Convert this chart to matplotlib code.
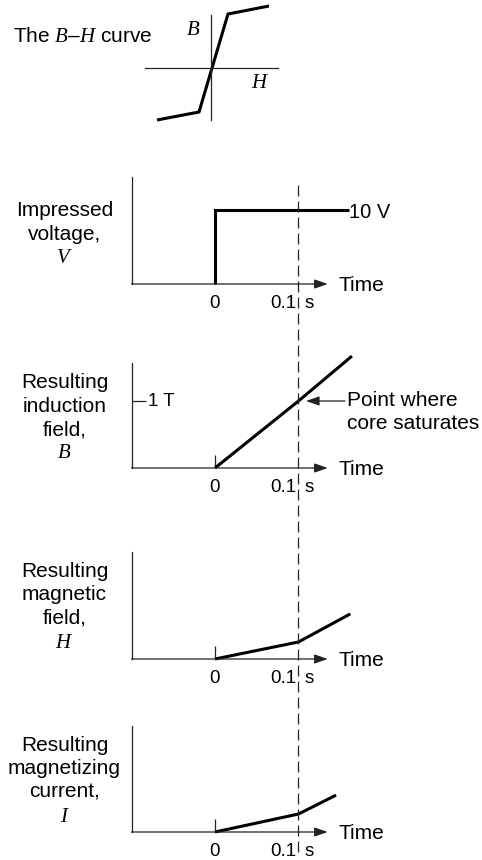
import matplotlib.pyplot as plt

plt.rcParams['font.family'] = 'Liberation Sans'
plt.rcParams['mathtext.fontset'] = 'custom'
plt.rcParams['mathtext.it'] = 'Liberation Serif:italic'
plt.rcParams['mathtext.rm'] = 'Liberation Sans'

# B-H curve (arbitrary units)
bh_H = [-5.4, -1.2, 1.7, 5.8]
bh_B = [-5.2, -4.4, 5.4, 6.2]

# time responses
t_sat = 0.1                     # s, point where core saturates
t_volt = [0, 0, 0.16]
volt = [0, 10, 10]              # V
t_ind = [0, 0.1, 0.164]
ind = [0, 1, 1.67]              # T
t_field = [0, 0.1, 0.162]
field = [0, 1, 2.65]            # arbitrary
t_cur = [0, 0.1, 0.145]
cur = [0, 1, 2.05]              # arbitrary

panel_labels = [['Impressed', 'voltage,', '$V$'],
                ['Resulting', 'induction', 'field,', '$B$'],
                ['Resulting', 'magnetic', 'field,', '$H$'],
                ['Resulting', 'magnetizing', 'current,', '$I$']]

W, H = 482, 860
fig = plt.figure(figsize=(W / 100, H / 100), dpi=100)


def box(x0, y0, x1, y1):
    # pixel box (top-left origin) -> figure fraction rect
    return [x0 / W, 1 - y1 / H, (x1 - x0) / W, (y1 - y0) / H]


AX_C = '#222222'
LW_AX = 0.9
LW_DATA = 2.2

# ---- B-H curve ----
bh = fig.add_axes(box(145, 5, 278, 120))
bh.set_xlim(-6.6, 6.7)
bh.set_ylim(-5.2, 6.3)
bh.patch.set_visible(False)
for s in ['top', 'right']:
    bh.spines[s].set_visible(False)
bh.spines['left'].set_position('zero')
bh.spines['bottom'].set_position('zero')
bh.spines['left'].set_bounds(-5.2, 5.3)
bh.spines['bottom'].set_bounds(-6.6, 6.7)
for s in ['left', 'bottom']:
    bh.spines[s].set_linewidth(LW_AX)
    bh.spines[s].set_color(AX_C)
bh.set_xticks([])
bh.set_yticks([])
bh.plot(bh_H, bh_B, color='k', lw=LW_DATA, solid_capstyle='butt',
        solid_joinstyle='miter', clip_on=False)
bh.text(-1.75, 3.3, '$B$', fontsize=15, ha='center', va='baseline')
bh.text(4.9, -2.0, '$H$', fontsize=15, ha='center', va='baseline')
fig.text(13 / W, 1 - 42 / H, 'The $B$–$H$ curve', fontsize=15,
         ha='left', va='baseline')

# ---- time panels ----
XL, XR = 131.5, 482
xlim = (-0.1, 0.3198)
t_tip = 0.135
t_time = 0.1485
panels = [
    (177, 284, 14.46, t_volt, volt, 216),
    (363, 468, 1.567, t_ind, ind, 388),
    (552, 659, 6.29, t_field, field, 577),
    (726, 832, 5.89, t_cur, cur, 751),
]
axes = []
for i, (top, bot, ymax, tx, ty, lab_y) in enumerate(panels):
    ax = fig.add_axes(box(XL, top, XR, bot))
    ax.set_xlim(*xlim)
    ax.set_ylim(0, ymax)
    ax.patch.set_visible(False)
    for s in ['top', 'right', 'bottom']:
        ax.spines[s].set_visible(False)
    ax.spines['left'].set_linewidth(LW_AX)
    ax.spines['left'].set_color(AX_C)
    ax.set_yticks([])
    ax.set_xticks([0], labels=[''])
    ax.tick_params(axis='x', direction='in', length=9.5, width=LW_AX,
                   color=AX_C)
    # time axis with arrow
    ax.annotate('', xy=(t_tip, 0), xytext=(xlim[0], 0),
                arrowprops=dict(arrowstyle='-|>,head_length=0.8,head_width=0.28',
                                lw=LW_AX, color=AX_C, shrinkA=0, shrinkB=0,
                                mutation_scale=10))
    ax.annotate('Time', xy=(t_time, 0), xytext=(0, -5.3),
                textcoords='offset points', fontsize=15, ha='left',
                va='baseline')
    ax.annotate('0', xy=(0, 0), xytext=(0, -17.6), textcoords='offset points',
                fontsize=13.5, ha='center', va='baseline')
    ax.annotate('0.1', xy=(t_sat, 0), xytext=(-1.5, -17.6),
                textcoords='offset points', fontsize=13.5, ha='right',
                va='baseline')
    ax.annotate('s', xy=(t_sat, 0), xytext=(4, -17.6),
                textcoords='offset points', fontsize=13.5, ha='left',
                va='baseline')
    ax.plot(tx, ty, color='k', lw=LW_DATA, solid_capstyle='butt',
            solid_joinstyle='miter', clip_on=False)
    for j, line in enumerate(panel_labels[i]):
        fig.text(64.5 / W, 1 - (lab_y + 23.5 * j) / H, line, fontsize=15,
                 ha='center', va='baseline')
    axes.append(ax)

ax_v, ax_b, ax_h, ax_i = axes
ax_v.annotate('10 V', xy=(t_volt[-1], volt[-1]), xytext=(0.5, -5.8),
              textcoords='offset points', fontsize=14.5, ha='left',
              va='baseline')

ax_b.set_yticks([1], labels=[''])
ax_b.tick_params(axis='y', direction='in', length=10, width=LW_AX,
                 color=AX_C)
ax_b.annotate('1 T', xy=(xlim[0], 1), xytext=(12, -3.4),
              textcoords='offset points', fontsize=13.5, ha='left',
              va='baseline')
ax_b.annotate('', xy=(t_sat, 1), xytext=(33.5, 0), textcoords='offset points',
              arrowprops=dict(arrowstyle='-|>,head_length=0.8,head_width=0.28',
                              lw=LW_AX, color=AX_C, shrinkA=0, shrinkB=5.4,
                              mutation_scale=10))
ax_b.annotate('Point where', xy=(t_sat, 1), xytext=(35, -3.6),
              textcoords='offset points', fontsize=15, ha='left',
              va='baseline')
ax_b.annotate('core saturates', xy=(t_sat, 1), xytext=(35, -20.5),
              textcoords='offset points', fontsize=15, ha='left',
              va='baseline')

# dashed saturation line across all panels
ov = fig.add_axes(box(XL, 0, XR, H))
ov.set_xlim(*xlim)
ov.set_ylim(H, 0)
ov.axis('off')
ov.vlines(t_sat, 185, 857, colors=AX_C, lw=LW_AX,
          linestyles=(0, (8.8, 4)))

fig.savefig('out.png', dpi=100)
